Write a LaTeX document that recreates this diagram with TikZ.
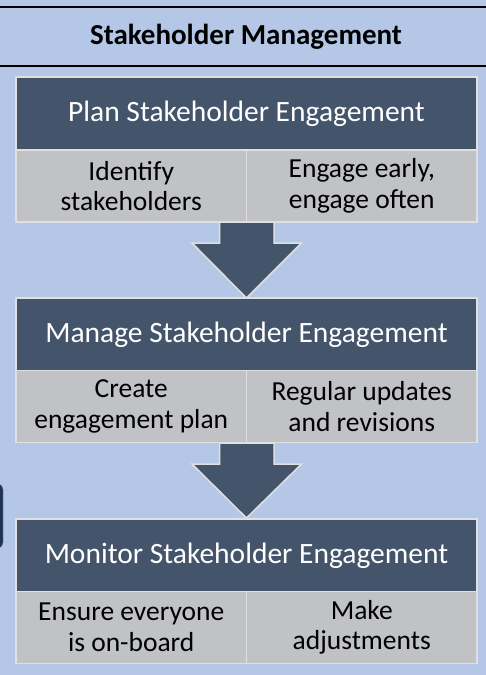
\documentclass[tikz,border=0pt]{standalone}
\usepackage{fontspec}
\setmainfont{Carlito}
\usetikzlibrary{calc}

\definecolor{pagebg}{RGB}{180,199,231}
\definecolor{headfill}{RGB}{68,84,106}
\definecolor{cellfill}{RGB}{192,194,198}
\definecolor{edge}{RGB}{224,224,224}
\definecolor{tabfill}{RGB}{31,51,82}

\begin{document}
\begin{tikzpicture}[x=1pt, y=-1pt,
    head/.style={draw=edge, line width=1.5pt, fill=headfill, text=white,
      minimum width=461pt, minimum height=73pt, inner sep=0pt,
      font=\fontsize{29.5}{34}\selectfont},
    cell/.style={draw=edge, line width=1.5pt, fill=cellfill, text=black,
      minimum width=230.5pt, minimum height=72pt, inner sep=0pt, align=center,
      font=\fontsize{27.5}{30.5}\selectfont},
    blockarrow/.style={draw=edge, line width=1.5pt, fill=headfill, line join=miter}]
    \useasboundingbox (0,0) rectangle (486,675);
    \fill[pagebg] (0,0) rectangle (486,675);

    % Title bar
    \draw[line width=1.5pt] (0,7) -- (486,7);
    \draw[line width=1.5pt] (0,66) -- (486,66);
    \node[font=\bfseries\fontsize{29}{33}\selectfont] (title) at (246,37) {Stakeholder Management};

    % Arrows
    \coordinate (J1) at (246.5,222);
    \coordinate (J2) at (246.5,443);
    \draw[blockarrow] ($(J1)+(-27,0)$) -- ++(0,21) -- ++(-27.5,0) -- (246.5,298)
      -- ($(J1)+(55,21)$) -- ++(-27.5,0) -- ++(0,-21) -- cycle;
    \draw[blockarrow] ($(J2)+(-27,0)$) -- ++(0,21) -- ++(-27.5,0) -- (246.5,518)
      -- ($(J2)+(55,21)$) -- ++(-27.5,0) -- ++(0,-21) -- cycle;

    % Nodes
    \node[head] (H1) at (246.5,113.5) {Plan Stakeholder Engagement};
    \node[cell] (C1a) at (131.25,186) {Identify\\stakeholders};
    \node[cell] (C1b) at (361.75,186) {Engage early,\\engage often};

    \node[head] (H2) at (246.5,334.5) {Manage Stakeholder Engagement};
    \node[cell] (C2a) at (131.25,406.5) {Create\\engagement plan};
    \node[cell] (C2b) at (361.75,406.5) {Regular updates\\and revisions};

    \node[head] (H3) at (246.5,555.5) {Monitor Stakeholder Engagement};
    \node[cell] (C3a) at (131.25,627.5) {Ensure everyone\\is on-board};
    \node[cell] (C3b) at (361.75,627.5) {Make\\adjustments};

    % Side tab
    \node[draw=pagebg!60!tabfill, fill=tabfill, rounded corners=5pt,
      minimum width=20pt, minimum height=64pt] (tab) at (-7,516) {};
\end{tikzpicture}
\end{document}
